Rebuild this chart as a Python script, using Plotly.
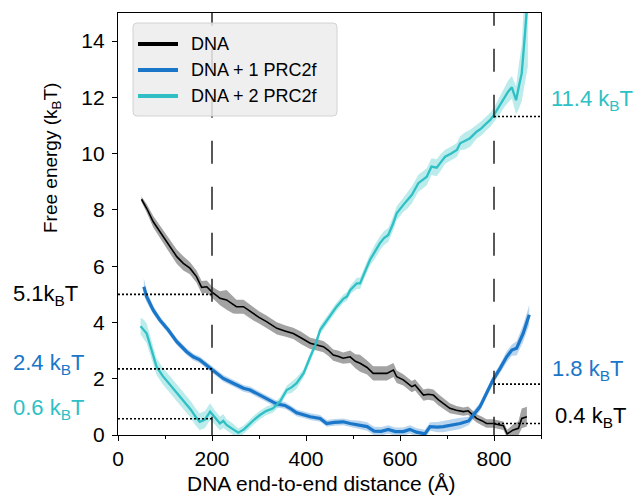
import plotly.graph_objects as go

# ---------------- data ----------------
x_dna = [50, 61, 75, 89, 104, 114, 125, 139, 153, 167, 178, 189, 196, 200, 210, 217, 231, 245, 252, 267,
         280, 288, 300, 316, 328, 338, 355, 373, 390, 409, 423, 437, 447, 458, 468, 479, 494, 505, 515, 530,
         543, 558, 572, 586, 593, 607, 625, 632, 650, 660, 671, 682, 692, 706, 720, 735, 745, 763, 775, 784,
         798, 813, 820, 828, 841, 852, 859, 870]
y_dna = [8.38, 8.06, 7.58, 7.23, 6.87, 6.64, 6.34, 6.10, 5.93, 5.63, 5.25, 5.27, 5.15, 5.08, 4.95, 4.86, 4.80, 4.62, 4.56, 4.56,
         4.40, 4.32, 4.18, 4.03, 3.90, 3.79, 3.70, 3.61, 3.45, 3.26, 3.20, 3.14, 3.02, 2.84, 2.80, 2.73, 2.78, 2.62, 2.55, 2.40,
         2.19, 2.19, 2.19, 2.31, 2.07, 1.96, 1.72, 1.78, 1.42, 1.45, 1.42, 1.25, 1.13, 0.95, 0.88, 0.83, 0.86, 0.59, 0.50, 0.41,
         0.41, 0.36, 0.33, 0.04, 0.18, 0.24, 0.59, 0.65]
err_dna = [0.10, 0.15, 0.20, 0.22, 0.25, 0.25, 0.25, 0.25, 0.22, 0.22, 0.22, 0.22, 0.20, 0.20, 0.22, 0.25, 0.35, 0.30, 0.25, 0.25,
           0.25, 0.25, 0.22, 0.22, 0.22, 0.22, 0.20, 0.20, 0.22, 0.20, 0.20, 0.20, 0.20, 0.20, 0.20, 0.20, 0.22, 0.25, 0.30, 0.25,
           0.25, 0.25, 0.25, 0.25, 0.22, 0.20, 0.20, 0.20, 0.20, 0.20, 0.20, 0.20, 0.20, 0.18, 0.15, 0.15, 0.15, 0.15, 0.15, 0.15,
           0.15, 0.15, 0.15, 0.15, 0.20, 0.25, 0.35, 0.35]

x_p1 = [55, 61, 75, 89, 107, 125, 146, 160, 174, 190, 200, 209, 224, 245, 267, 281, 302, 323, 338, 355,
        366, 380, 395, 409, 430, 444, 460, 479, 494, 515, 530, 545, 560, 575, 590, 607, 621, 635, 653, 664,
        680, 692, 710, 728, 746, 756, 770, 784, 798, 813, 827, 838, 848, 862, 875]
y_p1 = [5.27, 4.92, 4.44, 4.09, 3.73, 3.32, 2.96, 2.78, 2.67, 2.45, 2.33, 2.22, 2.01, 1.84, 1.66, 1.60, 1.42, 1.24, 1.10, 1.05,
        0.95, 0.79, 0.72, 0.65, 0.59, 0.41, 0.45, 0.47, 0.41, 0.36, 0.30, 0.14, 0.13, 0.20, 0.12, 0.12, 0.20, 0.10, 0.04, 0.30,
        0.28, 0.30, 0.35, 0.41, 0.50, 0.71, 1.00, 1.48, 1.96, 2.37, 2.78, 3.02, 3.08, 3.61, 4.27]
err_p1 = [0.30, 0.20, 0.15, 0.12, 0.12, 0.12, 0.12, 0.12, 0.12, 0.12, 0.12, 0.12, 0.12, 0.12, 0.12, 0.12, 0.12, 0.12, 0.12, 0.12,
          0.12, 0.12, 0.12, 0.12, 0.12, 0.12, 0.12, 0.12, 0.12, 0.15, 0.15, 0.15, 0.15, 0.15, 0.15, 0.15, 0.15, 0.15, 0.15, 0.15,
          0.18, 0.20, 0.20, 0.20, 0.15, 0.15, 0.15, 0.15, 0.15, 0.15, 0.20, 0.20, 0.25, 0.30, 0.35]

x_p2 = [48, 55, 61, 70, 82, 95, 111, 125, 139, 155, 165, 174, 185, 196, 205, 217, 224, 231, 245, 256,
        268, 281, 290, 302, 315, 330, 345, 359, 370, 380, 395, 409, 420, 430, 445, 465, 480, 487, 494, 508,
        515, 525, 536, 546, 557, 566, 575, 585, 593, 607, 616, 625, 639, 648, 657, 667, 678, 687, 696, 708,
        721, 728, 738, 749, 763, 773, 784, 792, 800, 812, 823, 830, 838, 847, 853, 859, 866, 872]
y_p2 = [3.87, 3.75, 3.61, 3.10, 2.43, 2.10, 1.78, 1.50, 1.24, 0.90, 0.65, 0.47, 0.55, 0.83, 0.65, 0.41, 0.50, 0.36, 0.20, 0.08,
        0.20, 0.41, 0.55, 0.71, 0.85, 0.95, 1.20, 1.60, 1.70, 1.84, 2.20, 2.78, 3.20, 3.73, 4.10, 4.56, 4.85, 4.92, 5.15, 5.39,
        5.39, 5.80, 6.22, 6.50, 6.81, 7.00, 7.11, 7.50, 7.88, 8.18, 8.35, 8.53, 8.95, 9.05, 9.18, 9.54, 9.50, 9.70, 9.89, 10.00,
        10.13, 10.37, 10.45, 10.55, 10.78, 10.90, 11.08, 11.20, 11.38, 11.70, 12.03, 12.20, 12.36, 11.90, 12.40, 12.86, 14.28, 15.60]
err_p2 = [0.30, 0.35, 0.35, 0.35, 0.30, 0.30, 0.30, 0.30, 0.30, 0.30, 0.30, 0.30, 0.30, 0.30, 0.25, 0.25, 0.25, 0.20, 0.20, 0.15,
          0.15, 0.15, 0.15, 0.15, 0.15, 0.15, 0.15, 0.15, 0.20, 0.20, 0.15, 0.15, 0.15, 0.15, 0.15, 0.15, 0.15, 0.15, 0.15, 0.20,
          0.20, 0.20, 0.20, 0.25, 0.25, 0.25, 0.25, 0.25, 0.25, 0.25, 0.30, 0.30, 0.30, 0.30, 0.30, 0.30, 0.30, 0.30, 0.25, 0.25,
          0.25, 0.25, 0.30, 0.30, 0.25, 0.25, 0.25, 0.25, 0.25, 0.30, 0.35, 0.40, 0.40, 0.50, 0.80, 1.00, 1.80, 2.50]

series_names = ["DNA", "DNA + 1 PRC2f", "DNA + 2 PRC2f"]
x_ticks = [0, 200, 400, 600, 800]
y_ticks = [0, 2, 4, 6, 8, 10, 12, 14]
window_x = [200, 800]
left_levels = [5.0, 2.35, 0.58]
left_labels = ["5.1k<sub>B</sub>T", "2.4 k<sub>B</sub>T", "0.6 k<sub>B</sub>T"]
right_levels = [11.32, 1.81, 0.41]
right_labels = ["11.4 k<sub>B</sub>T", "1.8 k<sub>B</sub>T", "0.4 k<sub>B</sub>T"]

# ---------------- styling / layout helpers ----------------
W, H = 638, 496
ML, MR, MT, MB = 118, 97, 13, 61
PW, PH = W - ML - MR, H - MT - MB


def px_x(p):  # pixel column -> paper x
    return (p - ML) / PW


def px_y(p):  # pixel row -> paper y
    return (H - MB - p) / PH


FONT = "Liberation Sans, Arial, Helvetica, sans-serif"
BLACK = "#000000"
BLUE = "#1a76c8"
TEAL = "#2ec0c4"
colors = [BLACK, BLUE, TEAL]
band_colors = ["rgba(0,0,0,0.36)", "rgba(26,118,200,0.30)", "rgba(46,192,196,0.32)"]
widths = [1.6, 3.2, 2.3]

fig = go.Figure()

data = [(x_dna, y_dna, err_dna), (x_p1, y_p1, err_p1), (x_p2, y_p2, err_p2)]
for i, (xs, ys, es) in enumerate(data):
    upper = [y + e for y, e in zip(ys, es)]
    lower = [y - e for y, e in zip(ys, es)]
    fig.add_trace(go.Scatter(x=xs + xs[::-1], y=upper + lower[::-1], fill="toself",
                             fillcolor=band_colors[i], line=dict(width=0), mode="lines",
                             hoverinfo="skip", showlegend=False))
for i, (xs, ys, es) in enumerate(data):
    fig.add_trace(go.Scatter(x=xs, y=ys, mode="lines", line=dict(color=colors[i], width=widths[i]),
                             showlegend=False, name=series_names[i]))

# dashed vertical window lines
for xv in window_x:
    fig.add_shape(type="line", xref="x", yref="y", x0=xv, x1=xv, y0=15.36, y1=-0.6,
                  line=dict(color="#222222", width=1.5, dash="23px,23px"), layer="above")

# dotted level lines
for lv in left_levels:
    fig.add_shape(type="line", xref="x", yref="y", x0=0, x1=200, y0=lv, y1=lv,
                  line=dict(color="black", width=1.6, dash="2px,2px"), layer="above")
for lv in right_levels:
    fig.add_shape(type="line", xref="x", yref="y", x0=800, x1=900, y0=lv, y1=lv,
                  line=dict(color="black", width=1.6, dash="2px,2px"), layer="above")

# level annotations
left_y = [4.98, 2.52, 0.92]
left_cols = [BLACK, BLUE, TEAL]
for txt, yy, c in zip(left_labels, left_y, left_cols):
    fig.add_annotation(x=px_x(11), xref="paper", y=yy, yref="y", text=txt, showarrow=False,
                       xanchor="left", yanchor="middle", font=dict(size=22, color=c, family=FONT))
right_y = [11.92, 2.31, 0.65]
right_px = [549, 549.5, 552.5]
right_cols = [TEAL, BLUE, BLACK]
for txt, yy, xp, c in zip(right_labels, right_y, right_px, right_cols):
    fig.add_annotation(x=px_x(xp), xref="paper", y=yy, yref="y", text=txt, showarrow=False,
                       xanchor="left", yanchor="middle", font=dict(size=22, color=c, family=FONT))

# legend box (drawn like the reference: 40px line samples, light grey rounded box)
lx0, lx1, ly0, ly1, r = 133, 337, 23, 116, 4
path = (f"M{px_x(lx0 + r)},{px_y(ly0)} L{px_x(lx1 - r)},{px_y(ly0)} "
        f"Q{px_x(lx1)},{px_y(ly0)} {px_x(lx1)},{px_y(ly0 + r)} "
        f"L{px_x(lx1)},{px_y(ly1 - r)} Q{px_x(lx1)},{px_y(ly1)} {px_x(lx1 - r)},{px_y(ly1)} "
        f"L{px_x(lx0 + r)},{px_y(ly1)} Q{px_x(lx0)},{px_y(ly1)} {px_x(lx0)},{px_y(ly1 - r)} "
        f"L{px_x(lx0)},{px_y(ly0 + r)} Q{px_x(lx0)},{px_y(ly0)} {px_x(lx0 + r)},{px_y(ly0)} Z")
fig.add_shape(type="path", xref="paper", yref="paper", path=path,
              fillcolor="rgba(236,236,236,0.85)", line=dict(color="#d2d2d2", width=1), layer="above")
legend_rows = [44, 70, 96]
for name, c, row in zip(series_names, colors, legend_rows):
    fig.add_shape(type="line", xref="paper", yref="paper", x0=px_x(138), x1=px_x(178),
                  y0=px_y(row), y1=px_y(row), line=dict(color=c, width=4), layer="above")
    fig.add_annotation(x=px_x(189), xref="paper", y=px_y(row), yref="paper", text=name,
                       showarrow=False, xanchor="left", yanchor="middle",
                       font=dict(size=18, color="black", family=FONT))

# axis titles
fig.add_annotation(x=px_x(52), xref="paper", y=px_y(158), yref="paper", text="Free energy (k<sub>B</sub>T)",
                   textangle=-90, showarrow=False, xanchor="center", yanchor="middle",
                   font=dict(size=19, color="black", family=FONT))
fig.add_annotation(x=px_x(321), xref="paper", y=px_y(484), yref="paper", text="DNA end-to-end distance (Å)",
                   showarrow=False, xanchor="center", yanchor="middle",
                   font=dict(size=21, color="black", family=FONT))

axis_common = dict(showline=True, linecolor="black", linewidth=1.3, mirror=True,
                   ticks="outside", ticklen=5, tickwidth=1.3, tickcolor="black",
                   showgrid=False, zeroline=False,
                   tickfont=dict(size=21, family=FONT, color="black"))

fig.update_layout(
    width=W, height=H,
    margin=dict(l=ML, r=MR, t=MT, b=MB),
    plot_bgcolor="white", paper_bgcolor="white",
    font=dict(family=FONT, color="black"),
    xaxis=dict(range=[0, 900], tickvals=x_ticks, **axis_common,
               minor=dict(dtick=100, tick0=0, ticks="outside", ticklen=3, tickwidth=1.2, tickcolor="black")),
    yaxis=dict(range=[0, 15], tickvals=y_ticks, ticklabelstandoff=3, **axis_common),
    showlegend=False,
)

fig.write_html("out.html")
